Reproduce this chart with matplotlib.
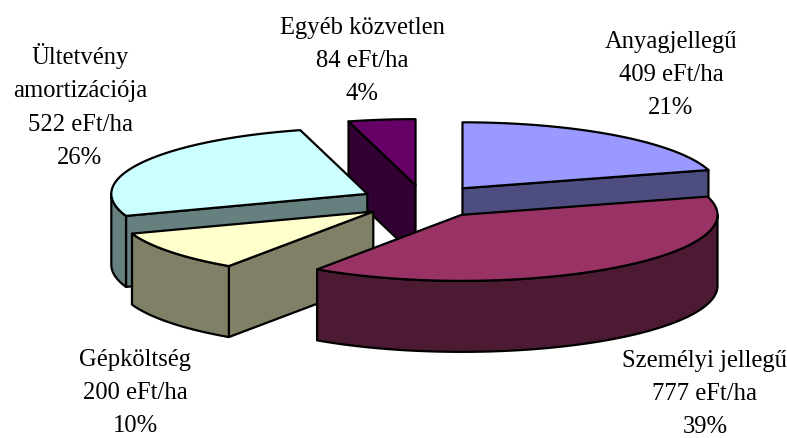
import numpy as np
import matplotlib
matplotlib.use("Agg")
import matplotlib.pyplot as plt
from matplotlib.patches import Polygon

# costs, clockwise from 12 o'clock
categories = ["Anyagjellegű", "Személyi jellegű", "Gépköltség", "Ültetvény\namortizációja", "Egyéb közvetlen"]
values = [409, 777, 200, 522, 84]
top_colors = ["#9999FF", "#993366", "#FFFFCC", "#CCFFFF", "#660066"]
side_colors = ["#4D4D80", "#4D1A33", "#808066", "#668080", "#330033"]
label_x = [671, 705, 135, 80, 362]
label_y = [75, 394, 393, 106, 61]
draw_order = [4, 0, 3, 2, 1]

# pie geometry in pixels
ox, oy = 424, 201.5
rx, ry = 256, 66
depth = 71
explode = 0.25

fig = plt.figure(figsize=(7.87, 4.38), dpi=100)
ax = fig.add_axes([0, 0, 1, 1])
ax.set_xlim(0, 787)
ax.set_ylim(438, 0)
ax.axis("off")


def rim(cx, cy, a, b):
    t = np.radians(np.linspace(a, b, 80))
    return np.column_stack([cx + rx * np.sin(t), cy - ry * np.cos(t)])


def add_poly(pts, color, z):
    ax.add_patch(Polygon(pts, closed=True, facecolor=color, edgecolor="black",
                         linewidth=1.6, joinstyle="round", zorder=z))


total = sum(values)
edges = np.concatenate([[0], np.cumsum(values) / total * 360])
down = np.array([0, depth])

for z, i in enumerate(draw_order):
    a, b = edges[i], edges[i + 1]
    mid = np.radians((a + b) / 2)
    cx = ox + explode * rx * np.sin(mid)
    cy = oy - explode * ry * np.cos(mid)
    c = np.array([cx, cy])
    zz = z * 10
    # cut faces
    if np.sin(np.radians(a)) < 0:
        p = rim(cx, cy, a, a)[0]
        add_poly([c, p, p + down, c + down], side_colors[i], zz)
    if np.sin(np.radians(b)) > 1e-6:
        p = rim(cx, cy, b, b)[0]
        add_poly([c, p, p + down, c + down], side_colors[i], zz + 1)
    # outer wall, front half only
    lo, hi = max(a, 90), min(b, 270)
    if lo < hi:
        arc = rim(cx, cy, lo, hi)
        add_poly(np.vstack([arc, arc[::-1] + down]), side_colors[i], zz + 2)
    # top face
    add_poly(np.vstack([c, rim(cx, cy, a, b)]), top_colors[i], zz + 3)

for i, name in enumerate(categories):
    pct = round(values[i] / total * 100)
    ax.text(label_x[i], label_y[i], f"{name}\n{values[i]} eFt/ha\n{pct}%",
            ha="center", va="center", ma="center", fontsize=17.7,
            family="Liberation Serif", linespacing=1.66, color="black", zorder=100)

fig.savefig("out.png", dpi=100)
